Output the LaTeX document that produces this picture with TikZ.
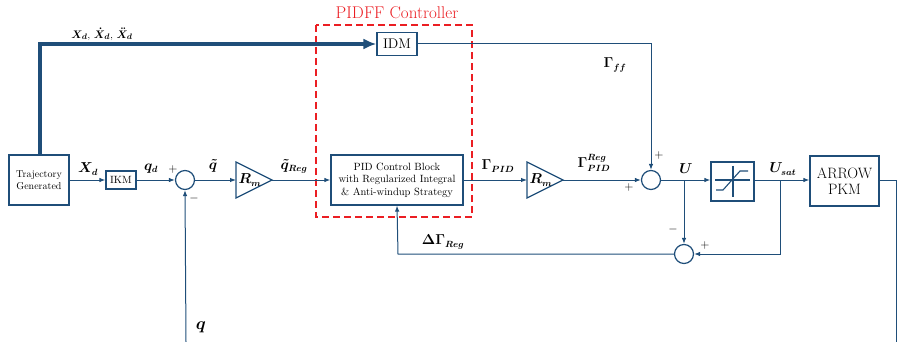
\documentclass[tikz,border=0pt]{standalone}
\usepackage{amsmath,bm}
\usetikzlibrary{arrows.meta}
\definecolor{bl}{RGB}{31,78,121}
\definecolor{rd}{RGB}{235,30,35}
\tikzset{
  blk/.style={draw=bl,line width=1.2pt,fill=white,inner sep=1pt,align=center},
  sumc/.style={draw=bl,line width=1.2pt,circle,minimum size=19pt,inner sep=0pt},
  sig/.style={draw=bl,line width=1pt,-{Latex[length=6pt,width=4.5pt]}},
  ln/.style={draw=bl,line width=1pt},
  lab/.style={inner sep=0pt},
  mlab/.style={inner sep=0pt,font=\fontsize{13.5}{15}\selectfont},
  pm/.style={inner sep=0pt,font=\fontsize{12}{14}\selectfont},
}
\begin{document}
\begin{tikzpicture}[x=1pt,y=-1pt]
\useasboundingbox (0,0) rectangle (897,342);
% blocks
\node[blk,minimum width=60pt,minimum height=50pt,font=\fontsize{10}{12}\selectfont] (traj) at (39,180) {Trajectory\\Generated};
\node[blk,minimum width=30pt,minimum height=18pt,font=\fontsize{10.5}{12}\selectfont] (ikm) at (121,180) {IKM};
\node[sumc] (s1) at (185,180) {};
\draw[bl,line width=1.2pt] (236,162) -- (272,180) -- (236,198) -- cycle;
\coordinate (rm1i) at (236,180); \coordinate (rm1o) at (272,180);
\node[mlab] (rm1) at (250,180) {$\bm{R_m}$};
\node[blk,minimum width=132pt,minimum height=50pt,font=\fontsize{10.5}{12.5}\selectfont] (pid) at (397,180) {PID Control Block\\with Regularized Integral\\\& Anti-windup Strategy};
\node[blk,minimum width=40pt,minimum height=23pt,font=\fontsize{14}{16}\selectfont] (idm) at (397,44) {IDM};
\draw[rd,line width=1.5pt,dash pattern=on 7pt off 4pt] (316,25) rectangle (472,217);
\node[lab,text=rd,font=\fontsize{17}{19}\selectfont] (pidff) at (397,13) {PIDFF Controller};
\draw[bl,line width=1.2pt] (527,162) -- (563,180) -- (527,198) -- cycle;
\coordinate (rm2i) at (527,180); \coordinate (rm2o) at (563,180);
\node[mlab] (rm2) at (541,180) {$\bm{R_m}$};
\node[sumc] (s2) at (651,180) {};
\node[blk,minimum width=43pt,minimum height=39pt] (sat) at (732.5,181.5) {};
\draw[bl,line width=1.1pt] (715,180) -- (750,180) (733,166) -- (733,197);
\draw[bl,line width=1.1pt] (716,190) -- (723,190) -- (740,171) -- (748,171);
\node[blk,minimum width=69pt,minimum height=50pt,font=\fontsize{15}{16}\selectfont] (pkm) at (844.5,181) {ARROW\\PKM};
\node[sumc] (s3) at (684,254) {};
% connectors
\coordinate (tr) at (40,44);
\draw[bl,line width=4pt,-{Latex[length=13pt,width=11pt]}] (traj.north -| tr) -- (tr) -- (idm.west);
\draw[sig] (traj.east) -- (ikm.west);
\draw[sig] (ikm.east) -- (s1.west);
\coordinate (qb) at (186,342);
\draw[sig] (qb) -- (s1.south);
\draw[sig] (s1.east) -- (rm1i);
\draw[sig] (rm1o) -- (pid.west);
\draw[sig] (pid.east) -- (rm2i);
\draw[sig] (rm2o) -- (s2.west);
\coordinate (ffc) at (651,44);
\draw[sig] (idm.east) -- (ffc) -- (s2.north);
\draw[sig] (s2.east) -- (sat.west |- s2.east);
\draw[sig] (sat.east |- s2.east) -- (pkm.west |- s2.east);
\coordinate (outr) at (896,180); \coordinate (outb) at (896,342);
\draw[ln] (pkm.east |- outr) -- (outr) -- (outb);
\coordinate (bU) at (684,180);
\draw[sig] (bU) -- (s3.north);
\coordinate (bS) at (780,180); \coordinate (bS2) at (780,254);
\draw[sig] (bS) -- (bS2) -- (s3.east);
\coordinate (fb) at (398,254);
\draw[sig] (s3.west) -- (fb) -- (pid.south);
% labels
\node[lab,font=\fontsize{11}{13}\selectfont] (lxd3) at (102,34) {$\bm{X_d}$, $\bm{\dot X_d}$, $\bm{\ddot X_d}$};
\node[mlab] (lxd) at (88,169) {$\bm{X_d}$};
\node[mlab] (lqd) at (151,169) {$\bm{q_d}$};
\node[pm] (p1) at (173,169) {$+$};
\node[pm] (m1) at (194,198) {$-$};
\node[mlab] (lqt) at (213,166) {$\bm{\tilde q}$};
\node[mlab] (lqr) at (294,166) {$\bm{\tilde q_{Reg}}$};
\node[lab,font=\fontsize{18}{20}\selectfont] (lq) at (201,327) {$\bm{q}$};
\node[mlab] (lgff) at (615,65) {$\bm{\Gamma_{ff}}$};
\node[mlab] (lgpid) at (498,166) {$\bm{\Gamma_{PID}}$};
\node[mlab] (lgr) at (594,163) {$\bm{\Gamma^{Reg}_{PID}}$};
\node[pm] (p2) at (659,156) {$+$};
\node[pm] (p3) at (629,187) {$+$};
\node[mlab] (lU) at (686,169) {$\bm{U}$};
\node[mlab] (lUs) at (783,169) {$\bm{U_{sat}}$};
\node[pm] (m3) at (673,229) {$-$};
\node[pm] (p4) at (705,245) {$+$};
\node[mlab] (ldg) at (443,242) {$\bm{\Delta\Gamma_{Reg}}$};
\end{tikzpicture}
\end{document}
